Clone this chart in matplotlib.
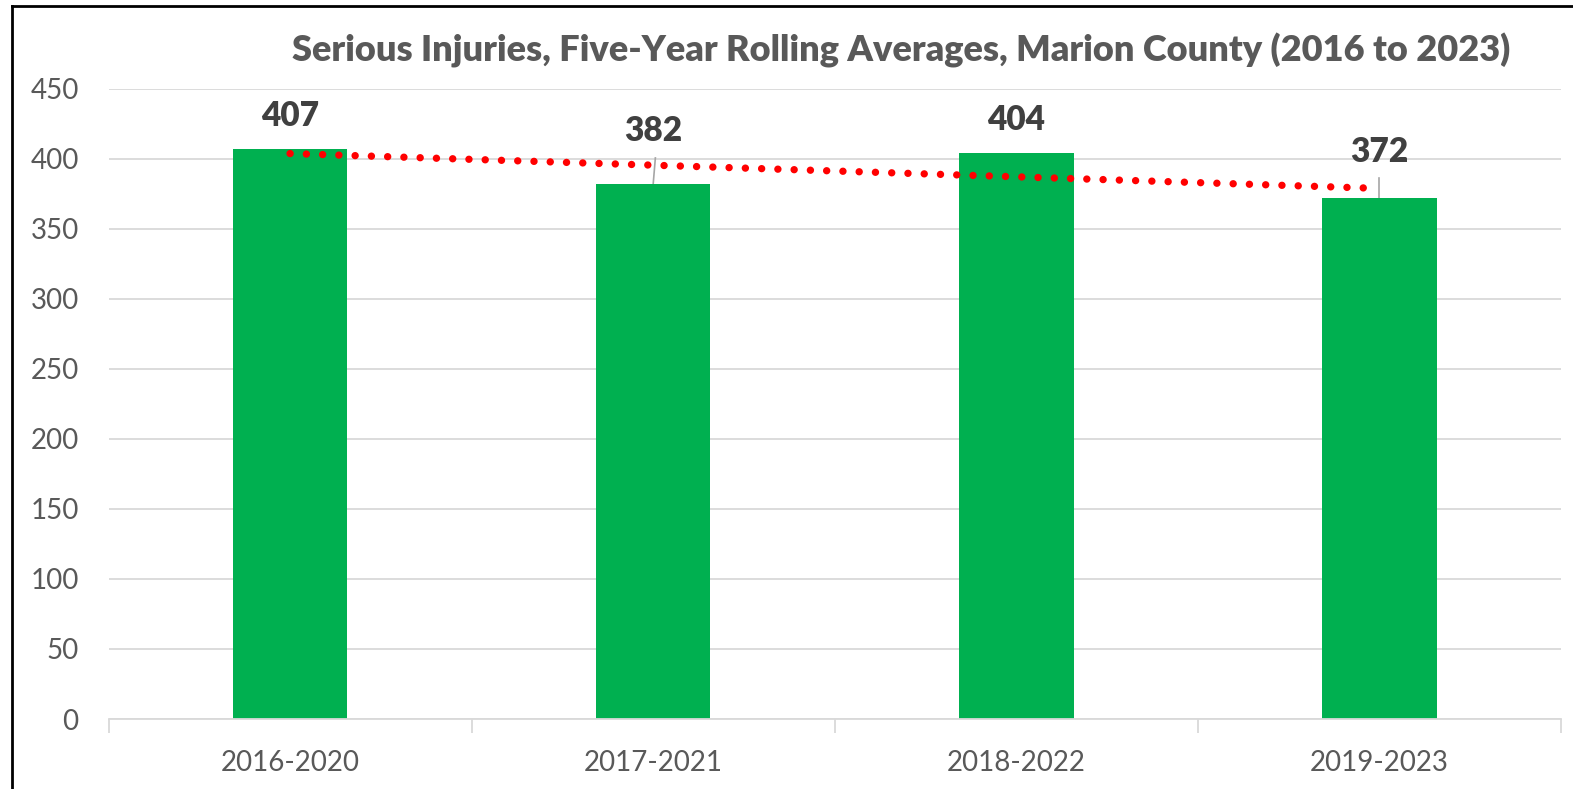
import numpy as np
import matplotlib.pyplot as plt
from matplotlib.lines import Line2D

plt.rcParams['font.family'] = ['Lato', 'DejaVu Sans']

periods = ['2016-2020', '2017-2021', '2018-2022', '2019-2023']
injuries = [407, 382, 404, 372]
yticks = list(range(0, 451, 50))
title = 'Serious Injuries, Five-Year Rolling Averages, Marion County (2016 to 2023)'

W, H = 1573, 789
fig = plt.figure(figsize=(W / 100, H / 100), dpi=100)
ax = fig.add_axes([108.5 / W, 1 - 719 / H, (1561 - 108.5) / W, (719 - 88.7) / H])

x = np.arange(len(periods))
ax.bar(x, injuries, width=0.315, color='#00B050', zorder=2)

# linear trendline like Excel
k, b = np.polyfit(x, injuries, 1)
ax.plot(x, k * x + b, color='#FF0000', lw=5.3, linestyle=(0, (0.01, 2.2)),
        dash_capstyle='round', zorder=3)

# data labels (some moved up with leader lines)
offsets = [33, 53, 33, 46]
for xi, v, off in zip(x, injuries, offsets):
    ax.annotate(str(v), (xi, v), xytext=(0, off), textcoords='offset pixels',
                ha='center', va='center', fontsize=24, fontweight='heavy',
                color='#404040', zorder=4)
# leader lines
for xi, v, top, dx in [(1, 382, 26, 0.006), (3, 372, 20, 0.0)]:
    ax.plot([xi, xi + dx], [v, v + top / 1.4], color='#A6A6A6', lw=1.2, zorder=1)

ax.set_xlim(-0.5, len(periods) - 0.5)
ax.set_ylim(0, 450)
ax.set_yticks(yticks)
ax.yaxis.grid(True, color='#D9D9D9', lw=1.3, zorder=0)
ax.set_axisbelow(True)
ax.set_xticks(x)
ax.set_xticklabels(periods)
ax.set_xticks(np.arange(-0.5, len(periods)), minor=True)
ax.tick_params(axis='x', which='major', length=0, labelsize=20, colors='#595959', pad=22)
ax.tick_params(axis='x', which='minor', length=10, width=1.3, color='#D9D9D9')
ax.tick_params(axis='y', length=0, labelsize=20, colors='#595959', pad=21.5)
for s in ['top', 'right', 'left']:
    ax.spines[s].set_visible(False)
ax.spines['bottom'].set_color('#D9D9D9')
ax.spines['bottom'].set_linewidth(1.3)

fig.text(901 / W, 1 - 50 / H, title, ha='center', va='center', fontsize=26,
         fontweight='heavy', color='#595959')

# chart border (left and top visible)
fig.add_artist(Line2D([12 / W, 12 / W], [0, 1 - 6 / H], color='black', lw=2, transform=fig.transFigure))
fig.add_artist(Line2D([12 / W, 1], [1 - 6 / H, 1 - 6 / H], color='black', lw=2, transform=fig.transFigure))

fig.savefig('out.png', dpi=100)
